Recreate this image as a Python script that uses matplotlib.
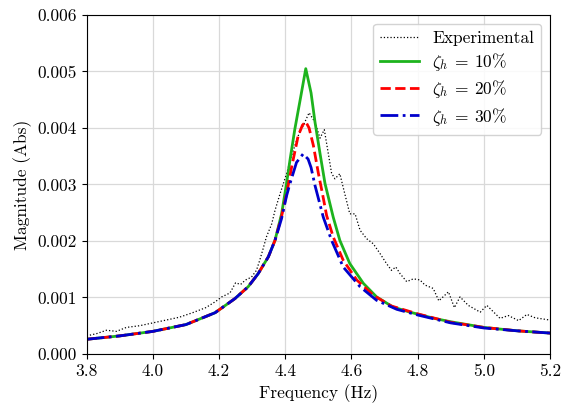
import matplotlib
matplotlib.use("Agg")
import matplotlib.pyplot as plt

plt.rcParams["font.family"] = "serif"
plt.rcParams["font.serif"] = ["cmr10", "DejaVu Serif"]
plt.rcParams["mathtext.fontset"] = "cm"
plt.rcParams["axes.formatter.use_mathtext"] = True

# Measured response (magnitudes in units of 1e-3)
exp_freq = [3.80, 3.83, 3.86, 3.89, 3.92, 3.96, 4.00, 4.04, 4.08, 4.12, 4.16, 4.19,
            4.208, 4.233, 4.25, 4.265, 4.28, 4.298, 4.313, 4.323, 4.333, 4.343, 4.359,
            4.369, 4.384, 4.394, 4.404, 4.419, 4.439, 4.455, 4.472, 4.49, 4.505, 4.518,
            4.53, 4.54, 4.55, 4.565, 4.575, 4.595, 4.611, 4.626, 4.646, 4.666, 4.686,
            4.706, 4.721, 4.734, 4.747, 4.767, 4.787, 4.807, 4.822, 4.847, 4.864, 4.893,
            4.911, 4.928, 4.953, 4.989, 5.009, 5.049, 5.074, 5.105, 5.13, 5.155, 5.20]
exp_mag = [0.32, 0.36, 0.42, 0.40, 0.47, 0.50, 0.55, 0.60, 0.65, 0.73, 0.82, 0.93,
           1.01, 1.08, 1.26, 1.23, 1.31, 1.36, 1.48, 1.66, 1.86, 2.07, 2.30,
           2.54, 2.83, 3.01, 3.19, 3.51, 3.86, 4.05, 4.27, 4.10, 3.82, 3.97,
           3.55, 3.20, 3.10, 3.19, 2.95, 2.48, 2.48, 2.19, 2.04, 1.95, 1.78,
           1.60, 1.48, 1.54, 1.42, 1.28, 1.33, 1.31, 1.22, 1.16, 0.94, 1.10,
           0.82, 1.01, 0.86, 0.74, 0.86, 0.63, 0.68, 0.59, 0.70, 0.64, 0.60]

# Model, zeta_h = 10 %
f10 = [3.80, 3.90, 4.00, 4.10, 4.188, 4.248, 4.288, 4.318, 4.349, 4.369, 4.389,
       4.404, 4.414, 4.429, 4.447, 4.462, 4.478, 4.490, 4.505, 4.52, 4.545, 4.565,
       4.595, 4.636, 4.676, 4.726, 4.777, 4.85, 4.90, 5.00, 5.10, 5.20]
m10 = [0.26, 0.32, 0.40, 0.52, 0.73, 0.98, 1.19, 1.42, 1.72, 2.01, 2.48,
       3.02, 3.42, 3.98, 4.56, 5.05, 4.62, 4.10, 3.55, 3.02, 2.42, 2.01,
       1.60, 1.25, 1.01, 0.83, 0.74, 0.63, 0.57, 0.47, 0.41, 0.37]

# Model, zeta_h = 20 %
f20 = [3.80, 3.90, 4.00, 4.10, 4.188, 4.248, 4.288, 4.318, 4.349, 4.369, 4.389,
       4.404, 4.419, 4.439, 4.452, 4.462, 4.472, 4.485, 4.50, 4.512, 4.525, 4.545,
       4.575, 4.616, 4.666, 4.72, 4.80, 4.90, 5.00, 5.10, 5.20]
m20 = [0.26, 0.32, 0.40, 0.52, 0.73, 0.98, 1.19, 1.42, 1.72, 2.01, 2.44,
       2.83, 3.30, 3.86, 4.05, 4.11, 4.00, 3.69, 3.20, 2.85, 2.45, 2.07,
       1.66, 1.31, 1.04, 0.85, 0.71, 0.56, 0.47, 0.41, 0.37]

# Model, zeta_h = 30 %
f30 = [3.80, 3.90, 4.00, 4.10, 4.188, 4.248, 4.288, 4.318, 4.349, 4.369, 4.389,
       4.404, 4.414, 4.434, 4.454, 4.469, 4.478, 4.49, 4.515, 4.54, 4.575, 4.626,
       4.676, 4.737, 4.80, 4.90, 5.00, 5.10, 5.20]
m30 = [0.26, 0.32, 0.40, 0.52, 0.73, 0.98, 1.19, 1.42, 1.72, 2.01, 2.40,
       2.80, 3.01, 3.39, 3.54, 3.45, 3.30, 2.98, 2.42, 2.01, 1.54, 1.19,
       0.95, 0.79, 0.69, 0.55, 0.46, 0.41, 0.37]

scale = 1e-3
xticks = [3.8, 4.0, 4.2, 4.4, 4.6, 4.8, 5.0, 5.2]
yticks = [0.000, 0.001, 0.002, 0.003, 0.004, 0.005, 0.006]

fig = plt.figure(figsize=(5.7, 4.05), dpi=100)
ax = fig.add_axes([0.152, 0.126, 0.813, 0.837])

ax.plot(exp_freq, [v * scale for v in exp_mag], color="black", ls=":", lw=0.9,
        label="Experimental")
ax.plot(f10, [v * scale for v in m10], color="#1db31d", ls="-", lw=2.0,
        label=r"$\zeta_h \:=\: 10\%$")
ax.plot(f20, [v * scale for v in m20], color="#ff0000", ls="--", lw=2.0,
        label=r"$\zeta_h \:=\: 20\%$")
ax.plot(f30, [v * scale for v in m30], color="#0000cc", ls="-.", lw=2.0,
        label=r"$\zeta_h \:=\: 30\%$")

ax.set_xlim(3.8, 5.2)
ax.set_ylim(0, 0.006)
ax.set_xticks(xticks)
ax.set_xticklabels([f"{t:.1f}" for t in xticks])
ax.set_yticks(yticks)
ax.set_yticklabels([f"{t:.3f}" for t in yticks])
ax.tick_params(labelsize=12.5)
ax.grid(True, color="#d9d9d9", lw=0.9)
ax.set_axisbelow(True)
ax.set_xlabel("Frequency (Hz)", fontsize=12.5)
ax.set_ylabel("Magnitude (Abs)", fontsize=12.5)
ax.legend(loc="upper right", fontsize=12.5, framealpha=0.85, handlelength=2.2,
          labelspacing=0.3)

fig.savefig("out.png", dpi=100)
